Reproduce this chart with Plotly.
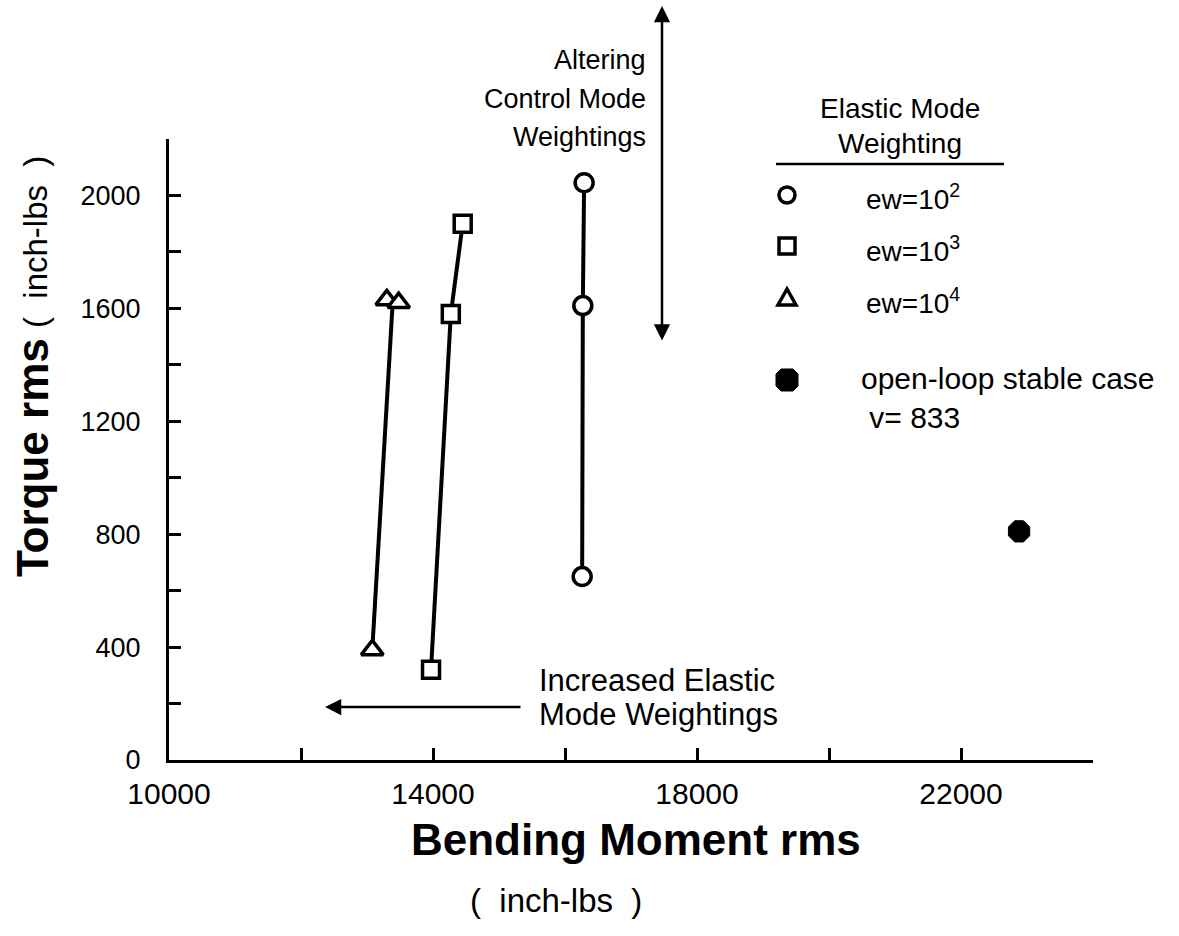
import plotly.graph_objects as go

# ---------------- data ----------------
circ_x = [16290, 16270, 16260]   # ew = 10^2
circ_y = [2045, 1610, 650]
sq_x = [14450, 14270, 13970]     # ew = 10^3
sq_y = [1900, 1580, 320]
tri_x = [13300, 13480, 13080]    # ew = 10^4
tri_y = [1630, 1620, 390]
open_x = [22880]                 # open-loop stable case, v = 833
open_y = [810]

x_tickvals = [10000, 14000, 18000, 22000]
x_ticktext = ["10000", "14000", "18000", "22000"]
y_tickvals = [0, 400, 800, 1200, 1600, 2000]
y_ticktext = ["0", "400", "800", "1200", "1600", "2000"]

# ---------------- layout geometry ----------------
W, H = 1179, 936
L, R, T, B = 169, 86, 139, 176
PW, PH = W - L - R, H - T - B


def px(x):
    return (x - L) / PW


def py(y):
    return (H - B - y) / PH


FONT = "Liberation Sans, Arial, Helvetica, sans-serif"
BLACK = "black"

fig = go.Figure()

fig.add_trace(go.Scatter(
    x=circ_x, y=circ_y, mode="lines+markers",
    line=dict(color=BLACK, width=4),
    marker=dict(symbol="circle", size=18, color="white", line=dict(color=BLACK, width=3.5)),
    showlegend=False, hoverinfo="skip"))

fig.add_trace(go.Scatter(
    x=sq_x, y=sq_y, mode="lines+markers",
    line=dict(color=BLACK, width=4),
    marker=dict(symbol="square", size=17, color="white", line=dict(color=BLACK, width=3.5)),
    showlegend=False, hoverinfo="skip"))

# triangle series: line from lowest point to the pair of upper points
fig.add_trace(go.Scatter(
    x=[tri_x[2], (tri_x[0] + tri_x[1]) / 2], y=[tri_y[2], (tri_y[0] + tri_y[1]) / 2],
    mode="lines", line=dict(color=BLACK, width=4),
    showlegend=False, hoverinfo="skip"))
fig.add_trace(go.Scatter(
    x=tri_x, y=tri_y, mode="markers",
    marker=dict(symbol="triangle-up", size=19, color="white", line=dict(color=BLACK, width=3.5)),
    showlegend=False, hoverinfo="skip"))

fig.add_trace(go.Scatter(
    x=open_x, y=open_y, mode="markers",
    marker=dict(symbol="octagon", size=23, color=BLACK, line=dict(color=BLACK, width=1)),
    showlegend=False, hoverinfo="skip"))

axis_common = dict(
    showgrid=False, zeroline=False, showline=True, linecolor=BLACK, linewidth=3,
    ticks="inside", ticklen=12, tickwidth=2.5, tickcolor=BLACK,
)

fig.update_xaxes(
    range=[10000, 24000], tickvals=x_tickvals, ticktext=x_ticktext,
    tickfont=dict(family=FONT, size=30, color=BLACK), ticklabelstandoff=5,
    minor=dict(dtick=2000, tick0=10000, ticks="inside", ticklen=12, tickwidth=2.5, tickcolor=BLACK),
    **axis_common)
fig.update_yaxes(
    range=[0, 2200], tickvals=y_tickvals, ticktext=y_ticktext,
    tickfont=dict(family=FONT, size=27, color=BLACK), ticklabelstandoff=20,
    minor=dict(dtick=200, tick0=0, ticks="inside", ticklen=12, tickwidth=2.5, tickcolor=BLACK),
    **axis_common)


def text_ann(text, x, y, size, xanchor="center", align="center", angle=0, bold=False):
    t = "<b>" + text + "</b>" if bold else text
    return dict(text=t, x=px(x), y=py(y), xref="paper", yref="paper", showarrow=False,
                xanchor=xanchor, yanchor="middle", align=align, textangle=angle,
                font=dict(family=FONT, size=size, color=BLACK))


ann = []
# axis titles
ann.append(text_ann("Bending Moment rms", 636, 839, 44, bold=True))
ann.append(text_ann("(  inch-lbs  )", 556, 900, 33))
ann.append(text_ann("Torque rms", 32, 458, 44, angle=-90, bold=True))
ann.append(text_ann("(  inch-lbs  )", 36, 242, 33, angle=-90))

# Altering control mode weightings
ann.append(text_ann("Altering", 648, 60, 27, xanchor="right"))
ann.append(text_ann("Control Mode", 648, 99, 27, xanchor="right"))
ann.append(text_ann("Weightings", 648, 137, 27, xanchor="right"))
ann.append(dict(text="", x=px(662), y=py(6), xref="paper", yref="paper",
                showarrow=True, ax=0, ay=336, axref="pixel", ayref="pixel",
                arrowhead=2, arrowside="end+start", arrowsize=1.3, arrowwidth=2.5,
                arrowcolor=BLACK, standoff=0, startstandoff=0))

# Increased elastic mode weightings
ann.append(text_ann("Increased Elastic", 537, 680, 31, xanchor="left"))
ann.append(text_ann("Mode Weightings", 537, 714, 31, xanchor="left"))
ann.append(dict(text="", x=px(325), y=py(707), xref="paper", yref="paper",
                showarrow=True, ax=197, ay=0, axref="pixel", ayref="pixel",
                arrowhead=2, arrowsize=1.3, arrowwidth=2.5,
                arrowcolor=BLACK, standoff=0, startstandoff=0))

# legend block
ann.append(text_ann("Elastic Mode", 900, 108, 28))
ann.append(text_ann("Weighting", 900, 143, 28))
leg_labels = ["ew=10<sup>2</sup>", "ew=10<sup>3</sup>", "ew=10<sup>4</sup>"]
leg_y = [197, 249, 301]
for lab, yy in zip(leg_labels, leg_y):
    ann.append(text_ann(lab, 864, yy, 28, xanchor="left"))
ann.append(text_ann("open-loop stable case<br> v= 833", 859, 398, 30, xanchor="left", align="left"))

shapes = []
shapes.append(dict(type="line", xref="paper", yref="paper", x0=px(776), x1=px(1004),
                   y0=py(164), y1=py(164), line=dict(color=BLACK, width=2.5)))
# legend symbols
cx = 787
r = 8
shapes.append(dict(type="circle", xref="paper", yref="paper",
                   x0=px(cx - r), x1=px(cx + r), y0=py(195 - r), y1=py(195 + r),
                   line=dict(color=BLACK, width=3.5), fillcolor="white"))
shapes.append(dict(type="rect", xref="paper", yref="paper",
                   x0=px(cx - r), x1=px(cx + r), y0=py(246 - r), y1=py(246 + r),
                   line=dict(color=BLACK, width=3.5), fillcolor="white"))
ty = 298
tri_path = "M {:.5f},{:.5f} L {:.5f},{:.5f} L {:.5f},{:.5f} Z".format(
    px(cx - 9), py(ty + 7), px(cx + 9), py(ty + 7), px(cx), py(ty - 9))
shapes.append(dict(type="path", xref="paper", yref="paper", path=tri_path,
                   line=dict(color=BLACK, width=3.5), fillcolor="white"))
oy = 380
s, c = 11, 5
pts = [(cx - s + c, oy - s), (cx + s - c, oy - s), (cx + s, oy - s + c), (cx + s, oy + s - c),
       (cx + s - c, oy + s), (cx - s + c, oy + s), (cx - s, oy + s - c), (cx - s, oy - s + c)]
oct_path = "M " + " L ".join("{:.5f},{:.5f}".format(px(a), py(b)) for a, b in pts) + " Z"
shapes.append(dict(type="path", xref="paper", yref="paper", path=oct_path,
                   line=dict(color=BLACK, width=1), fillcolor=BLACK))

fig.update_layout(
    width=W, height=H,
    margin=dict(l=L, r=R, t=T, b=B, pad=0),
    paper_bgcolor="white", plot_bgcolor="white",
    font=dict(family=FONT, color=BLACK),
    annotations=ann, shapes=shapes,
    showlegend=False,
)

fig.write_html("out.html", config={"displayModeBar": False},
               post_script="document.body.style.margin='0';document.body.style.overflow='hidden';")
